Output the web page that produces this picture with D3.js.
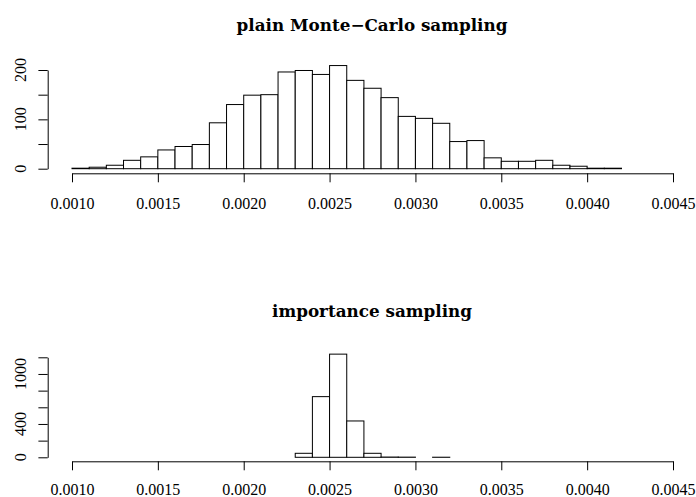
<!DOCTYPE html>
<html>
<head>
<meta charset="utf-8">
<script src="https://cdn.jsdelivr.net/npm/d3@7"></script>
<style>
  body { margin: 0; background: #fff; }
  .tick text, .ylab { font-family: "Liberation Serif", serif; font-size: 16px; fill: #000; }
  .title { font-family: "DejaVu Serif", serif; font-weight: bold; font-size: 16.8px; }
</style>
</head>
<body>
<script>
// left edge of each bin, last bin ends at 0.0045
var binStarts = [0.0010, 0.0011, 0.0012, 0.0013, 0.0014, 0.0015, 0.0016, 0.0017, 0.0018, 0.0019,
                 0.0020, 0.0021, 0.0022, 0.0023, 0.0024, 0.0025, 0.0026, 0.0027, 0.0028, 0.0029,
                 0.0030, 0.0031, 0.0032, 0.0033, 0.0034, 0.0035, 0.0036, 0.0037, 0.0038, 0.0039,
                 0.0040, 0.0041, 0.0042, 0.0043, 0.0044];
var binWidth = 0.0001;

var plainCounts = [1, 3, 7, 17, 24, 38, 45, 49, 93, 130,
                   149, 150, 196, 199, 191, 209, 179, 163, 144, 106,
                   102, 92, 55, 57, 22, 15, 15, 17, 7, 5,
                   1, 1, 0, 0, 0];
var importanceCounts = [0, 0, 0, 0, 0, 0, 0, 0, 0, 0,
                        0, 0, 0, 48, 728, 1238, 436, 48, 3, 2,
                        0, 1, 0, 0, 0, 0, 0, 0, 0, 0,
                        0, 0, 0, 0, 0];

var xTicks = [0.0010, 0.0015, 0.0020, 0.0025, 0.0030, 0.0035, 0.0040, 0.0045];
var plainYTicks = [0, 50, 100, 150, 200];
var plainYLabels = [0, 100, 200];
var impYTicks = [0, 200, 400, 600, 800, 1000, 1200];
var impYLabels = [0, 400, 1000];

var svg = d3.select("body").append("svg").attr("width", 696).attr("height", 497);

var x = d3.scaleLinear().domain([0.0010, 0.0045]).range([72, 673]);

function drawPanel(opts) {
  var y = d3.scaleLinear().domain(opts.yDomain).range(opts.yRange);
  var g = svg.append("g");

  g.selectAll("rect")
    .data(opts.counts)
    .enter()
    .append("rect")
    .attr("x", (d, i) => x(binStarts[i]))
    .attr("width", (d, i) => x(binStarts[i] + binWidth) - x(binStarts[i]))
    .attr("y", d => y(d))
    .attr("height", d => y(0) - y(d))
    .attr("fill", "#fff")
    .attr("stroke", "#000")
    .attr("stroke-width", 1);

  // x axis
  var xAxis = d3.axisBottom(x).tickValues(xTicks).tickFormat(d3.format(".4f"))
    .tickSize(9).tickSizeOuter(0).tickPadding(opts.xPad);
  var xg = g.append("g").attr("transform", `translate(0, ${opts.xAxisY})`).call(xAxis);
  xg.attr("font-family", null).attr("font-size", null);

  // y axis, labels drawn separately (rotated, R style)
  var yAxis = d3.axisLeft(y).tickValues(opts.yTicks).tickFormat("").tickSize(9.3).tickSizeOuter(0);
  g.append("g").attr("transform", "translate(47.7, 0)").call(yAxis);

  g.selectAll(".ylab")
    .data(opts.yLabels)
    .enter()
    .append("text")
    .attr("class", "ylab")
    .attr("text-anchor", "middle")
    .attr("transform", d => `translate(25.7, ${y(d)}) rotate(-90)`)
    .text(d => d);

  g.append("text")
    .attr("class", "title")
    .attr("x", 372)
    .attr("y", opts.titleY)
    .attr("text-anchor", "middle")
    .text(opts.title);
}

drawPanel({
  counts: plainCounts,
  yDomain: [0, 200], yRange: [168.7, 70],
  yTicks: plainYTicks, yLabels: plainYLabels,
  xAxisY: 173.3, xPad: 15.3, titleY: 31,
  title: "plain Monte\u2212Carlo sampling"
});

drawPanel({
  counts: importanceCounts,
  yDomain: [0, 1200], yRange: [457.3, 357.3],
  yTicks: impYTicks, yLabels: impYLabels,
  xAxisY: 461.3, xPad: 13.8, titleY: 317.3,
  title: "importance sampling"
});
</script>
</body>
</html>
